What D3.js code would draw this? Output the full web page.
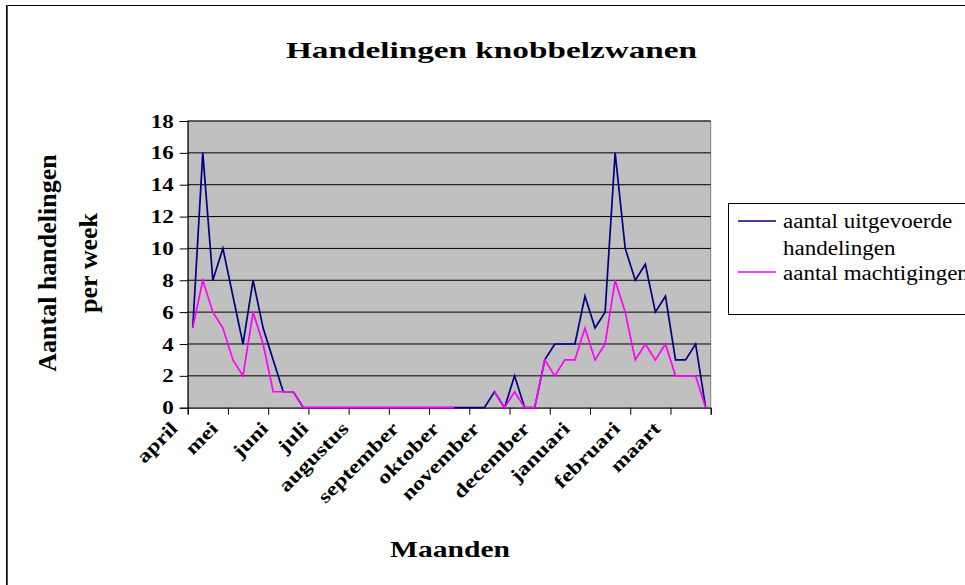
<!DOCTYPE html>
<html><head><meta charset="utf-8">
<script src="https://cdn.jsdelivr.net/npm/d3@7"></script>
<style>html,body{margin:0;padding:0;background:#fff;overflow:hidden}</style>
</head><body>
<script>
const weeks = [1,2,3,4,5,6,7,8,9,10,11,12,13,14,15,16,17,18,19,20,21,22,23,24,25,26,
  27,28,29,30,31,32,33,34,35,36,37,38,39,40,41,42,43,44,45,46,47,48,49,50,51,52];
const uitgevoerd = [5,16,8,10,7,4,8,5,3,1,1,
  0,0,0,0,0,0,0,0,0,0,0,0,0,0,0,0,0,0,0,
  1,0,2,0,0,3,4,4,4,7,5,6,16,10,8,9,6,7,3,3,4,0];
const machtigingen = [5,8,6,5,3,2,6,4,1,1,1,
  0,0,0,0,0,0,0,0,0,0,0,0,0,0,0,0,
  null,null,null,
  1,0,1,0,0,3,2,3,3,5,3,4,8,6,3,4,3,4,2,2,2,0];
const monthLabels = ["april","mei","juni","juli","augustus","september","oktober","november","december","januari","februari","maart"];
const monthWeeks = [1,5,10,14,18,23,27,31,36,40,45,49];
const yTicks = [0,2,4,6,8,10,12,14,16,18];
const seriesNames = ["aantal uitgevoerde", "aantal machtigingen"];

const W = 965, H = 585;
const FONT = "'Liberation Serif','Times New Roman',serif";
const svg = d3.select("body").append("svg").attr("width", W).attr("height", H)
  .style("font-family", FONT);

function stretch(sel, f) {
  sel.each(function () {
    const n = this.getComputedTextLength();
    d3.select(this).attr("textLength", n * f).attr("lengthAdjust", "spacingAndGlyphs");
  });
}

// outer chart border
svg.append("rect").attr("x", 6.5).attr("y", 5.5).attr("width", 1200).attr("height", 1200)
  .attr("fill", "#fff").attr("stroke", "#000").attr("stroke-width", 1);
svg.append("line").attr("x1", 7.5).attr("x2", 7.5).attr("y1", 5).attr("y2", H).attr("stroke", "#555").attr("stroke-width", 1);

const L = 187.7, R = 710.7, T = 121, B = 407.7;
const x = d3.scaleBand().domain(weeks).range([L, R]).padding(0);
const y = d3.scaleLinear().domain([0, 18]).range([B, T]);

// plot area
svg.append("rect").attr("x", L).attr("y", T).attr("width", R - L).attr("height", B - T)
  .attr("fill", "#c0c0c0").attr("stroke", "#808080").attr("stroke-width", 1);

// gridlines
svg.append("g").selectAll("line").data(yTicks.filter(d => d > 0)).join("line")
  .attr("x1", L).attr("x2", R).attr("y1", d => y(d)).attr("y2", d => y(d))
  .attr("stroke", "#000").attr("stroke-width", 1);

// y axis
const yAxis = svg.append("g").attr("transform", `translate(${L},0)`)
  .call(d3.axisLeft(y).tickValues(yTicks).tickSize(8).tickPadding(6).tickFormat(d3.format("d")));
yAxis.select(".domain").attr("stroke", "#000");
yAxis.selectAll(".tick line").attr("stroke", "#000");
yAxis.selectAll("text").attr("font-size", 18).attr("font-weight", "bold")
  .attr("font-family", FONT).attr("fill", "#000").attr("dy", "0.34em");
stretch(yAxis.selectAll("text"), 1.28);

// x axis: ticks every 4 weeks at category boundaries
const xl = d3.scaleLinear().domain([0, weeks.length]).range([L, R]);
const xTickVals = d3.range(0, weeks.length + 1, 4);
const xAxis = svg.append("g").attr("transform", `translate(0,${B})`)
  .call(d3.axisBottom(xl).tickValues(xTickVals).tickSize(7).tickFormat(""));
xAxis.select(".domain").attr("stroke", "#000");
xAxis.selectAll(".tick line").attr("stroke", "#000");

// month labels
const ml = svg.append("g").selectAll("text").data(monthLabels).join("text")
  .attr("transform", (d, i) => `translate(${x(monthWeeks[i]) + x.bandwidth() / 2 - 14},${B + 22}) rotate(-45)`)
  .attr("text-anchor", "end")
  .attr("font-size", 19).attr("font-weight", "bold").attr("fill", "#000")
  .text(d => d);
stretch(ml, 1.25);

// lines
const line = d3.line()
  .defined(d => d[1] != null)
  .x(d => x(d[0]) + x.bandwidth() / 2)
  .y(d => y(d[1]));
svg.append("path").datum(weeks.map((w, i) => [w, uitgevoerd[i]]))
  .attr("d", line).attr("fill", "none").attr("stroke", "#000080").attr("stroke-width", 1.7);
svg.append("path").datum(weeks.map((w, i) => [w, machtigingen[i]]))
  .attr("d", line).attr("fill", "none").attr("stroke", "#ff00ff").attr("stroke-width", 1.7);

// title
svg.append("text").attr("x", 491.5).attr("y", 58).attr("text-anchor", "middle")
  .attr("font-size", 24).attr("font-weight", "bold")
  .attr("textLength", 411).attr("lengthAdjust", "spacingAndGlyphs")
  .text("Handelingen knobbelzwanen");

// axis titles
const yt = svg.append("text").attr("transform", "translate(0,263) rotate(-90)")
  .attr("text-anchor", "middle").attr("font-size", 26).attr("font-weight", "bold");
yt.append("tspan").attr("x", 0).attr("y", 56).text("Aantal handelingen");
yt.append("tspan").attr("x", 0).attr("y", 97).text("per week");

svg.append("text").attr("x", 450).attr("y", 557).attr("text-anchor", "middle")
  .attr("font-size", 24).attr("font-weight", "bold")
  .attr("textLength", 120).attr("lengthAdjust", "spacingAndGlyphs").text("Maanden");

// legend
const lg = svg.append("g");
lg.append("rect").attr("x", 728.5).attr("y", 203.5).attr("width", 300).attr("height", 111)
  .attr("fill", "#fff").attr("stroke", "#000").attr("stroke-width", 1);
lg.append("line").attr("x1", 738).attr("x2", 776).attr("y1", 221).attr("y2", 221)
  .attr("stroke", "#000080").attr("stroke-width", 1.6);
lg.append("line").attr("x1", 738).attr("x2", 776).attr("y1", 272).attr("y2", 272)
  .attr("stroke", "#ff00ff").attr("stroke-width", 1.6);
const lt = lg.selectAll("text.lt").data([[seriesNames[0], 228], ["handelingen", 255], [seriesNames[1], 280]])
  .join("text").attr("class", "lt").attr("x", 783).attr("y", d => d[1])
  .attr("font-size", 20).attr("font-family", FONT).text(d => d[0]);
stretch(lt, 1.15);
</script>
</body></html>
